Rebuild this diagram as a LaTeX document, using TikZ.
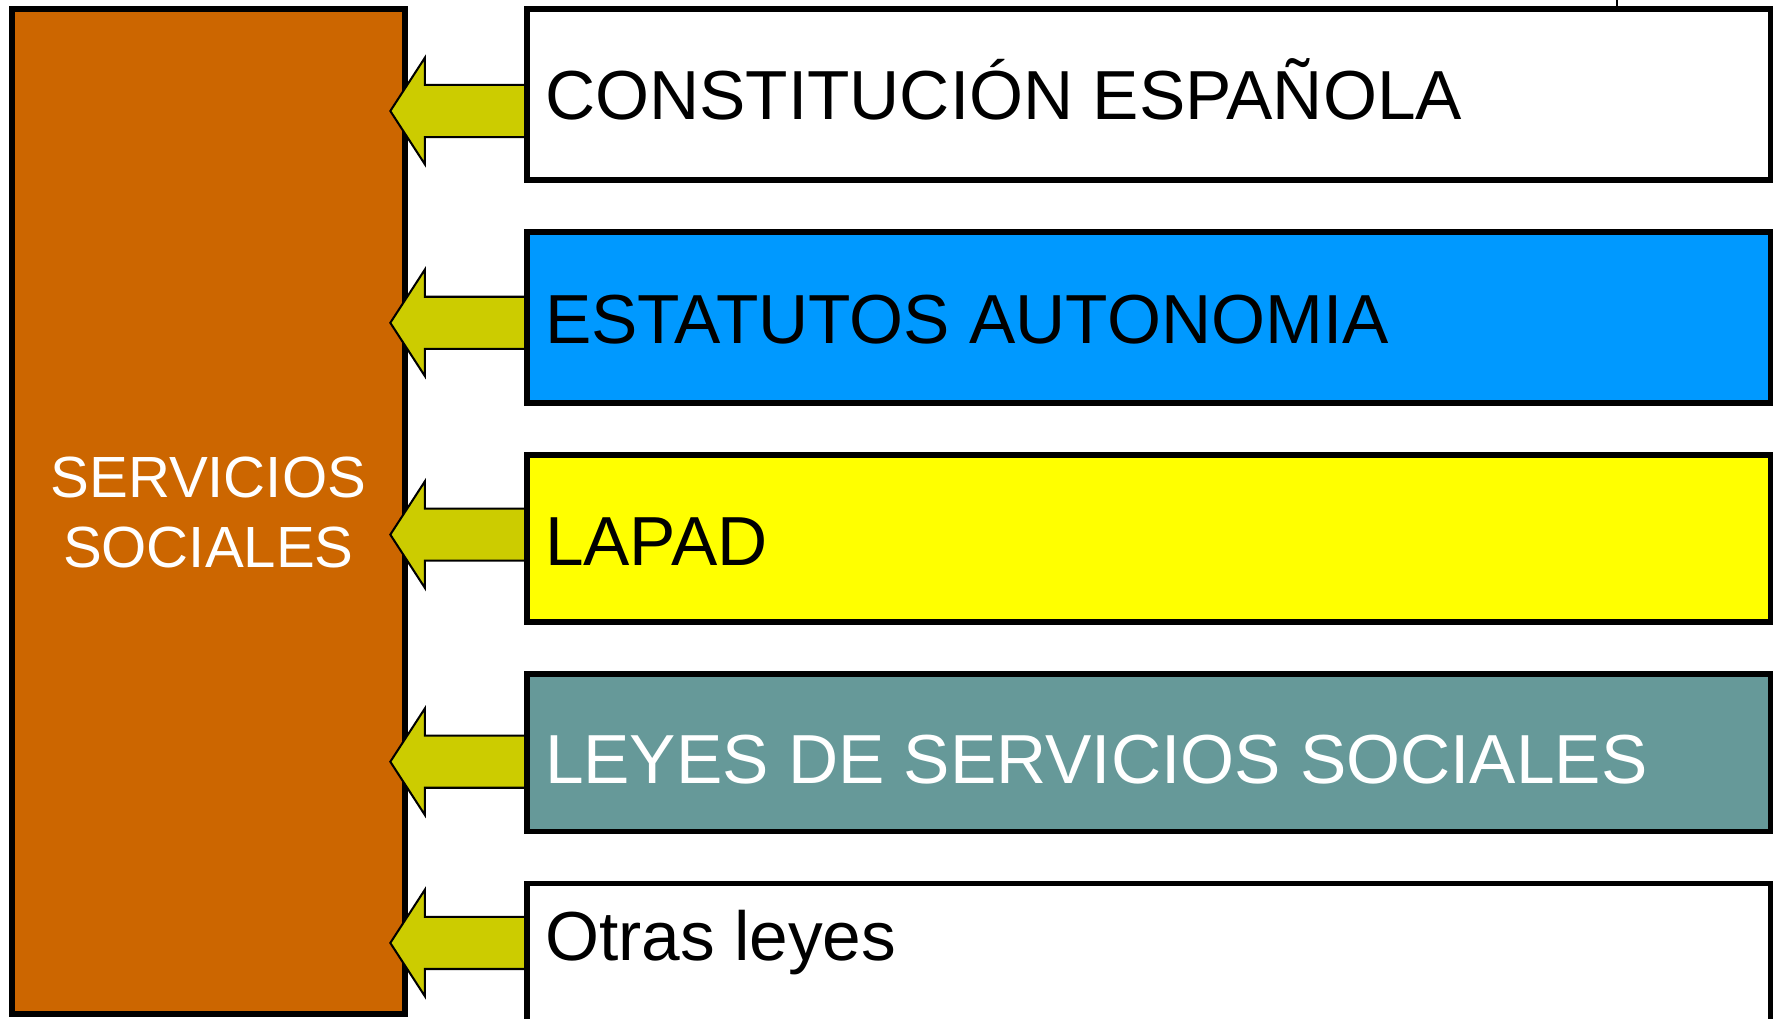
\documentclass[tikz,border=0pt]{standalone}
\usepackage{fontspec}
\setmainfont{Liberation Sans}
\usetikzlibrary{calc}
\definecolor{ssorange}{HTML}{CC6600}
\definecolor{lawblue}{HTML}{0099FF}
\definecolor{lawyellow}{HTML}{FFFF00}
\definecolor{lawteal}{HTML}{669999}
\definecolor{arrowolive}{HTML}{CCCC00}
\pgfdeclarelayer{backlayer}
\pgfdeclarelayer{midlayer}
\pgfsetlayers{backlayer,midlayer,main}
\newcommand\lawarrow[2]{%
  \draw[lawarrowstyle] ($(#1)+(0,-23)$) -- ($(#2)+(30.5,-23)$) -- ($(#2)+(30.5,-47)$) -- (#2)
    -- ($(#2)+(30.5,47)$) -- ($(#2)+(30.5,23)$) -- ($(#1)+(0,23)$) -- cycle;}
\begin{document}
\begin{tikzpicture}[x=1pt,y=-1pt,
  ssbox/.style={draw=black, fill=ssorange, line width=5.3pt, inner sep=0pt, outer sep=0pt,
    minimum width=347.3pt, minimum height=887.4pt, anchor=north west},
  lawbox/.style={draw=black, line width=5pt, inner sep=0pt, outer sep=0pt,
    minimum width=1098pt, anchor=north west},
  lawtext/.style={inner sep=0pt, anchor=base west, font=\fontsize{61.3}{73}\selectfont},
  sstext/.style={inner sep=0pt, anchor=base, text=white, font=\fontsize{51.3}{61}\selectfont},
  lawarrowstyle/.style={draw=black, fill=arrowolive, line width=1.8pt, line join=miter}
]
\useasboundingbox (0,0) rectangle (1568,898.8);

\begin{pgfonlayer}{backlayer}
  \node[ssbox] (ss) at (10.3,8) {};
\end{pgfonlayer}
\node[sstext] (sst1) at (ss.center |- 0,439.4) {SERVICIOS};
\node[sstext] (sst2) at (ss.center |- 0,500.9) {SOCIALES};

\node[lawbox, fill=white,      minimum height=151pt] (b1) at (465,8)   {};
\node[lawbox, fill=lawblue,    minimum height=151pt] (b2) at (465,205) {};
\node[lawbox, fill=lawyellow,  minimum height=147pt] (b3) at (465,402) {};
\node[lawbox, fill=lawteal,    minimum height=139pt] (b4) at (465,595) {};
\node[lawbox, fill=white,      minimum height=200pt] (b5) at (465,780) {};

\node[lawtext] (l1) at (481,105.5) {CONSTITUCIÓN ESPAÑOLA};
\node[lawtext] (l2) at (481,303.3) {ESTATUTOS AUTONOMIA};
\node[lawtext] (l3) at (481,499.2) {LAPAD};
\node[lawtext, text=white] (l4) at (481,691.3) {LEYES DE SERVICIOS SOCIALES};
\node[lawtext] (l5) at (481,847.7) {Otras leyes};

\coordinate (a1) at (b1.west |- 0,98);
\coordinate (a2) at (b2.west |- 0,285);
\coordinate (a3) at (b3.west |- 0,472);
\coordinate (a4) at (b4.west |- 0,672.5);
\coordinate (a5) at (b5.west |- 0,832.5);
\foreach \i in {1,...,5} {
  \coordinate (t\i) at ($(ss.east |- a\i)+(-13,0)$);
}
\begin{pgfonlayer}{midlayer}
  \foreach \i in {1,...,5} { \lawarrow{a\i}{t\i} }
\end{pgfonlayer}

\coordinate (tk) at (1427.6,0);
\draw[line width=1.5pt] (tk) -- (tk |- b1.north);
\end{tikzpicture}
\end{document}
